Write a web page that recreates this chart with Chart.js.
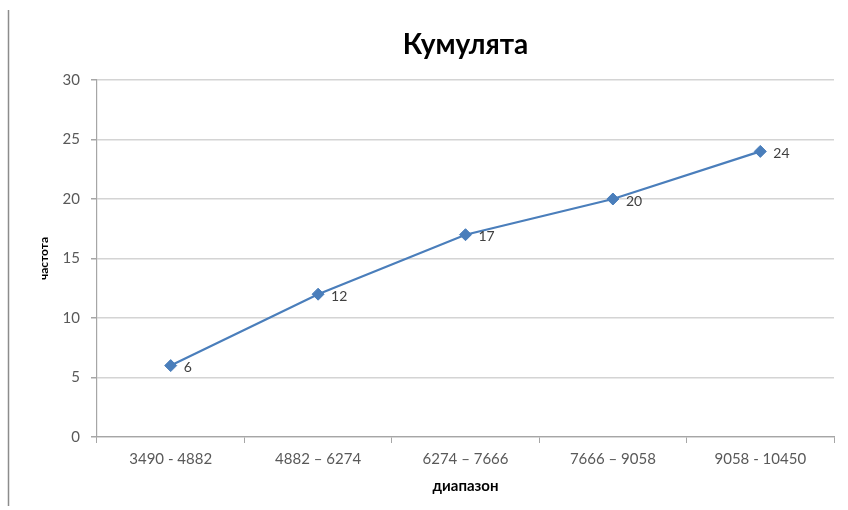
<!DOCTYPE html>
<html>
<head>
<meta charset="utf-8">
<script src="https://cdn.jsdelivr.net/npm/chart.js@4.4.1/dist/chart.umd.min.js"></script>
<style>
  html, body { margin: 0; padding: 0; background: #ffffff; }
  #wrap { width: 848px; height: 510px; }
</style>
</head>
<body>
<div id="wrap"><canvas id="c" width="848" height="510"></canvas></div>
<script>
// Ranges (x categories) and cumulative frequencies
const ranges = ['3490 - 4882', '4882 – 6274', '6274 – 7666', '7666 – 9058', '9058 - 10450'];
const cumulative = [6, 12, 17, 20, 24];
const yTicks = [0, 5, 10, 15, 20, 25, 30];

const chartTitle = 'Кумулята';
const xTitle = 'диапазон';
const yTitle = 'частота';

const FONT = 'Lato, "Open Sans", "DejaVu Sans", sans-serif';
const LINE_BLUE = '#4a7ebb';

// Left frame edge and the title centred over the plot area
const framePlugin = {
  id: 'frame',
  beforeDraw(chart) {
    const ctx = chart.ctx;
    ctx.save();
    ctx.strokeStyle = '#8c8c8c';
    ctx.lineWidth = 1.5;
    ctx.beginPath();
    ctx.moveTo(8.5, 10);
    ctx.lineTo(8.5, 506);
    ctx.stroke();
    ctx.restore();
  },
  afterDraw(chart) {
    const ctx = chart.ctx;
    const a = chart.chartArea;
    ctx.save();
    ctx.fillStyle = '#000000';
    ctx.font = 'bold 28px ' + FONT;
    ctx.textAlign = 'center';
    ctx.textBaseline = 'middle';
    ctx.fillText(chartTitle, (a.left + a.right) / 2, 45);
    ctx.restore();
  }
};

// Value labels to the right of each marker
const valueLabels = {
  id: 'valueLabels',
  afterDatasetsDraw(chart) {
    const ctx = chart.ctx;
    const meta = chart.getDatasetMeta(0);
    ctx.save();
    ctx.fillStyle = '#404040';
    ctx.font = '14px ' + FONT;
    ctx.textAlign = 'left';
    ctx.textBaseline = 'middle';
    meta.data.forEach((pt, i) => {
      ctx.fillText(String(cumulative[i]), pt.x + 13, pt.y + 2);
    });
    ctx.restore();
  }
};

new Chart(document.getElementById('c'), {
  type: 'line',
  data: {
    labels: ranges,
    datasets: [{
      data: cumulative,
      borderColor: LINE_BLUE,
      backgroundColor: LINE_BLUE,
      borderWidth: 2.2,
      tension: 0,
      pointStyle: 'rectRot',
      pointRadius: 6,
      pointHoverRadius: 6,
      pointBackgroundColor: LINE_BLUE,
      pointBorderColor: LINE_BLUE,
      pointBorderWidth: 1
    }]
  },
  options: {
    responsive: false,
    animation: false,
    devicePixelRatio: 1,
    layout: { padding: { left: 33, right: 14, top: 80, bottom: 12 } },
    plugins: {
      legend: { display: false },
      title: { display: false },
      tooltip: { enabled: false }
    },
    scales: {
      x: {
        offset: true,
        afterFit(scale) { scale.height = 61; },
        grid: {
          offset: true,
          drawOnChartArea: false,
          drawTicks: true,
          tickLength: 6,
          color: '#a6a6a6'
        },
        border: { color: '#a6a6a6', width: 1.2 },
        ticks: {
          color: '#595959',
          font: { family: FONT, size: 15 },
          padding: 7,
          maxRotation: 0,
          autoSkip: false
        },
        title: {
          display: true,
          text: xTitle,
          color: '#000000',
          font: { family: FONT, size: 15, weight: 'bold' },
          padding: { top: 4, bottom: 3 }
        }
      },
      y: {
        min: 0,
        max: 30,
        afterFit(scale) { scale.width = 64; },
        afterBuildTicks(scale) { scale.ticks = yTicks.map(v => ({ value: v })); },
        grid: {
          color: '#d4d4d4',
          lineWidth: 1.5,
          drawTicks: true,
          tickLength: 6,
          tickColor: '#a6a6a6'
        },
        border: { color: '#a6a6a6', width: 1.2 },
        ticks: {
          color: '#595959',
          font: { family: FONT, size: 15 },
          padding: 11
        },
        title: {
          display: true,
          text: yTitle,
          color: '#000000',
          font: { family: FONT, size: 12, weight: 'bold' },
          padding: { top: 4, bottom: 4 }
        }
      }
    }
  },
  plugins: [framePlugin, valueLabels]
});
</script>
</body>
</html>
